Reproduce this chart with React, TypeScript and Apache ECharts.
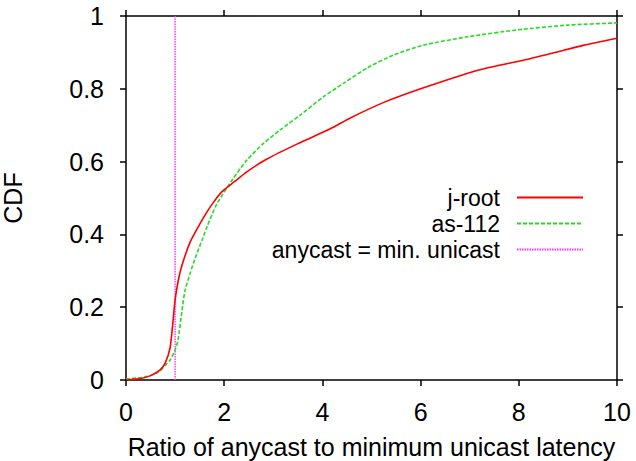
import React, { useEffect, useRef } from "react";
import * as echarts from "echarts";

const jRootX = [0, 0.3, 0.5, 0.69, 0.8, 0.9, 0.96, 1.0, 1.06, 1.14, 1.31, 1.51, 1.65, 1.78, 1.95, 2.2, 2.46, 2.87, 3.48, 4.16, 4.57, 5.24, 6.0, 6.96, 7.37, 8.04, 8.71, 9.33, 10];
const jRootY = [0, 0.004, 0.012, 0.027, 0.047, 0.09, 0.165, 0.22, 0.27, 0.315, 0.38, 0.43, 0.462, 0.488, 0.517, 0.544, 0.572, 0.607, 0.648, 0.69, 0.72, 0.762, 0.8, 0.843, 0.858, 0.877, 0.899, 0.92, 0.939];

const as112X = [0, 0.3, 0.5, 0.69, 0.8, 0.9, 1.0, 1.06, 1.14, 1.2, 1.31, 1.41, 1.55, 1.65, 1.85, 2.18, 2.46, 2.8, 3.14, 3.55, 4.02, 4.43, 4.92, 5.45, 6.06, 6.96, 7.98, 9.0, 10];
const as112Y = [0.003, 0.007, 0.012, 0.025, 0.04, 0.055, 0.082, 0.11, 0.19, 0.245, 0.295, 0.335, 0.385, 0.421, 0.484, 0.553, 0.604, 0.65, 0.687, 0.728, 0.778, 0.815, 0.858, 0.893, 0.92, 0.943, 0.962, 0.975, 0.981];

const minUniX = [1, 1];
const minUniY = [0, 1];

const seriesNames = ["j-root", "as-112", "anycast = min. unicast"];
const xTitle = "Ratio of anycast to minimum unicast latency";
const yTitle = "CDF";

const FONT = "'Liberation Sans', Arial, sans-serif";
const FS = 25;
const LFS = 23;

const zip = (xs: number[], ys: number[]) => xs.map((x, i) => [x, ys[i]]);

export default function App() {
  const ref = useRef<HTMLDivElement>(null);
  useEffect(() => {
    if (!ref.current) return;
    const chart = echarts.init(ref.current, undefined, { renderer: "svg" });
    const axisLine = { show: true, onZero: false, lineStyle: { color: "#000", width: 1.5 } };
    const axisTick = { show: true, inside: false, length: 6, lineStyle: { color: "#000", width: 1.5 } };
    const legendBase = {
      orient: "horizontal" as const,
      align: "right" as const,
      right: 52,
      padding: 0,
      itemWidth: 66,
      itemHeight: 14,
      itemStyle: { opacity: 0 },
      textStyle: { fontFamily: FONT, fontSize: LFS, lineHeight: 22, color: "#000", padding: [0, 12, 0, 0] },
      selectedMode: false,
    };
    chart.setOption({
      animation: false,
      textStyle: { fontFamily: FONT },
      grid: { left: 126, right: 19, top: 16, bottom: 81, containLabel: false, outerBoundsMode: "none" },
      legend: [
        { ...legendBase, data: [seriesNames[0]], top: 197 - 11 },
        { ...legendBase, data: [seriesNames[1]], top: 223 - 11 },
        { ...legendBase, data: [seriesNames[2]], top: 249 - 11 },
      ],
      xAxis: [
        {
          type: "value",
          min: 0,
          max: 10,
          interval: 2,
          position: "bottom",
          axisLine,
          axisTick,
          splitLine: { show: false },
          axisLabel: { fontFamily: FONT, fontSize: FS, color: "#000", margin: 19 },
          name: xTitle,
          nameLocation: "middle",
          nameGap: 54,
          nameTextStyle: { fontFamily: FONT, fontSize: 25, color: "#000" },
        },
        {
          type: "value",
          min: 0,
          max: 10,
          interval: 2,
          position: "top",
          axisLine,
          axisTick,
          splitLine: { show: false },
          axisLabel: { show: false },
        },
      ],
      yAxis: [
        {
          type: "value",
          min: 0,
          max: 1,
          interval: 0.2,
          position: "left",
          axisLine,
          axisTick,
          splitLine: { show: false },
          axisLabel: { fontFamily: FONT, fontSize: FS, color: "#000", margin: 22 },
          name: yTitle,
          nameLocation: "middle",
          nameGap: 101,
          nameTextStyle: { fontFamily: FONT, fontSize: FS, color: "#000" },
        },
        {
          type: "value",
          min: 0,
          max: 1,
          interval: 0.2,
          position: "right",
          axisLine,
          axisTick,
          splitLine: { show: false },
          axisLabel: { show: false },
        },
      ],
      series: [
        {
          name: seriesNames[0],
          type: "line",
          data: zip(jRootX, jRootY),
          symbol: "none",
          smooth: 0.2,
          color: "#ff0000",
          lineStyle: { color: "#ff0000", width: 1.6, type: "solid" },
          z: 3,
        },
        {
          name: seriesNames[1],
          type: "line",
          data: zip(as112X, as112Y),
          symbol: "none",
          smooth: 0.2,
          color: "#22dd22",
          lineStyle: { color: "#22dd22", width: 1.6, type: [4, 2] },
          z: 2,
        },
        {
          name: seriesNames[2],
          type: "line",
          data: zip(minUniX, minUniY),
          symbol: "none",
          color: "#ff33ff",
          lineStyle: { color: "#ff33ff", width: 1.4, type: [1.5, 1] },
          z: 1,
        },
      ],
    });
    return () => chart.dispose();
  }, []);
  return (
    <div
      ref={ref}
      style={{ position: "fixed", left: 0, top: 0, width: 636, height: 461, background: "#fff" }}
    />
  );
}
